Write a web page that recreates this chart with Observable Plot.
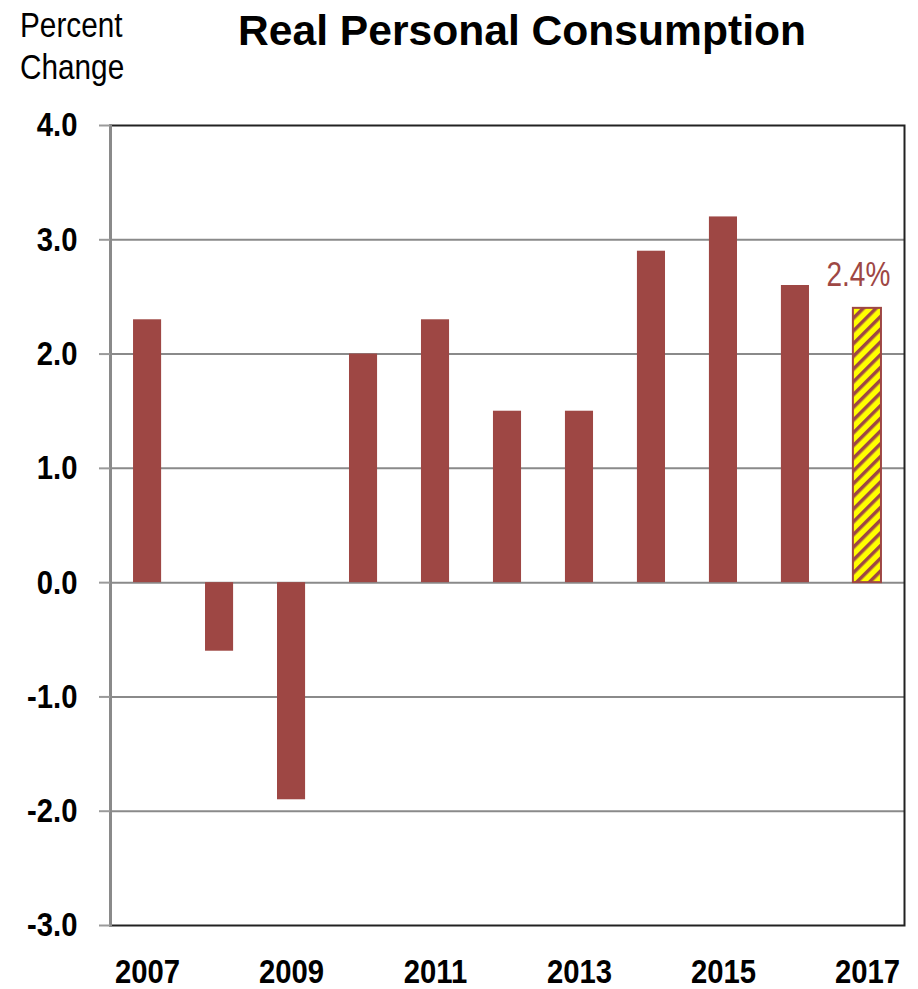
<!DOCTYPE html>
<html>
<head>
<meta charset="utf-8">
<script src="https://cdn.jsdelivr.net/npm/d3@7"></script>
<script src="https://cdn.jsdelivr.net/npm/@observablehq/plot@0.6"></script>
<style>
  body { margin: 0; background: #fff; }
  #wrap { position: relative; width: 918px; height: 989px; overflow: hidden; }
  #head { position: relative; width: 918px; height: 100px; }
  #unit { position: absolute; left: 20px; top: 4px; font-family: "Liberation Sans", Arial, sans-serif; font-size: 35px; line-height: 42px; color: #000; transform: scaleX(0.85); transform-origin: left top; white-space: nowrap; }
  #title { position: absolute; left: 238px; top: 10px; font-family: "Liberation Sans", Arial, sans-serif; font-weight: bold; font-size: 42.6px; line-height: 40px; color: #000; white-space: nowrap; }
</style>
</head>
<body>
<div id="wrap">
  <div id="head">
    <div id="unit">Percent<br>Change</div>
    <div id="title">Real Personal Consumption</div>
  </div>
  <div id="chart"></div>
</div>
<script>
const years = ["2007","2008","2009","2010","2011","2012","2013","2014","2015","2016","2017"];
const values = [2.3, -0.6, -1.9, 2.0, 2.3, 1.5, 1.5, 2.9, 3.2, 2.6, 2.4];
const estimateYear = "2017";
const estimateLabel = "2.4%";
const yTicks = [-3, -2, -1, 0, 1, 2, 3, 4];
const gridTicks = [-2, -1, 0, 1, 2, 3];
const xTickLabels = ["2007","2009","2011","2013","2015","2017"];

const barColor = "#9e4744";
const font = "'Liberation Sans', Arial, sans-serif";

const data = years.map((year, i) => ({year, value: values[i]}));
const actual = data.filter(d => d.year !== estimateYear);
const estimate = data.filter(d => d.year === estimateYear);

const chart = Plot.plot({
  width: 918,
  height: 889,
  marginTop: 25,
  marginBottom: 64,
  marginLeft: 110,
  marginRight: 14,
  style: { fontFamily: font, background: "#fff", overflow: "visible" },
  x: { type: "band", domain: years, paddingInner: 0.61, paddingOuter: 0.32, round: false, axis: null },
  y: { domain: [-3, 4], axis: null },
  marks: [
    Plot.ruleY(gridTicks, { stroke: "#8a8a8a", strokeWidth: 2 }),
    Plot.barY(actual, { x: "year", y: "value", fill: barColor }),
    Plot.barY(estimate, { x: "year", y: "value", fill: "url(#hatch)", stroke: barColor, strokeWidth: 2 }),
    Plot.text(estimate, { x: "year", y: "value", text: () => estimateLabel, dy: -34, dx: -9, fill: barColor, fontSize: 35 }),
    Plot.frame({ stroke: "#222", strokeWidth: 2 }),
    Plot.frame({ anchor: "left", stroke: "#8a8a8a", strokeWidth: 3 }),
    Plot.axisY({ ticks: yTicks, tickFormat: d => d.toFixed(1), tickSize: 11, tickPadding: 22, stroke: "#9a9a9a", strokeWidth: 2, fontSize: 34, fontWeight: "bold", fill: "#000", label: null }),
    Plot.axisX({ ticks: xTickLabels, tickSize: 0, tickPadding: 33, fontSize: 34, fontWeight: "bold", fill: "#000", label: null })
  ]
});

const svg = d3.select(chart);
svg.insert("defs", ":first-child").html(
  `<pattern id="hatch" patternUnits="userSpaceOnUse" width="9" height="9" patternTransform="rotate(45)">
     <rect width="9" height="9" fill="#ffff00"></rect>
     <rect x="0" y="0" width="3.5" height="9" fill="${barColor}"></rect>
   </pattern>`
);

document.getElementById("chart").appendChild(chart);

// condense text horizontally (narrow typeface look) without touching positions
svg.selectAll("text").each(function () {
  const sx = this.textContent === estimateLabel ? 0.8 : 0.86;
  const len = this.getComputedTextLength();
  if (len > 0) {
    this.setAttribute("textLength", (len * sx).toFixed(2));
    this.setAttribute("lengthAdjust", "spacingAndGlyphs");
  }
});
</script>
</body>
</html>
